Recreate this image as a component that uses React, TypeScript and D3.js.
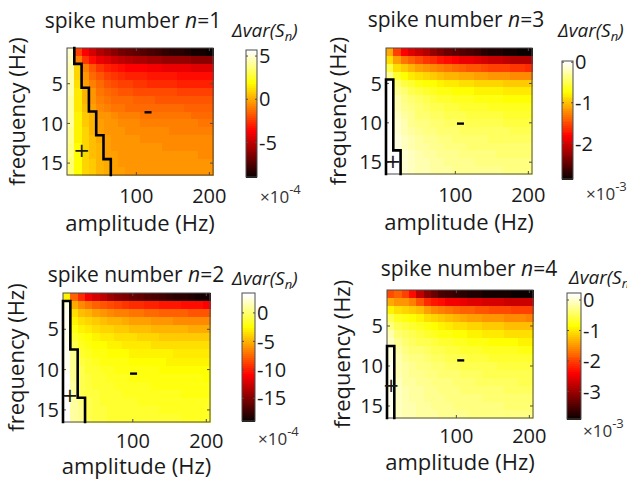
import React from 'react';
import * as d3 from 'd3';

// ---------- data ----------
const AMPLITUDES = [10, 20, 30, 40, 50, 60, 70, 80, 90, 100, 110, 120, 130, 140, 150, 160, 170, 180, 190, 200];
const FREQUENCIES = [1, 2, 3, 4, 5, 6, 7, 8, 9, 10, 11, 12, 13, 14, 15, 16];
const X_TICKS = [100, 200];
const Y_TICKS = [5, 10, 15];

// spike number n=1, values x 1e-4 (rows = frequency 1..16, cols = amplitude 10..200)
const DVAR_N1 = [
  [4.8, -2.2, -3.5, -4.5, -5.2, -5.7, -6.1, -6.5, -6.8, -7.0, -7.3, -7.5, -7.7, -7.9, -8.1, -8.3, -8.4, -8.6, -8.7, -8.8],
  [4.6, -0.9, -2.5, -3.4, -4.0, -4.4, -4.7, -5.0, -5.2, -5.4, -5.5, -5.6, -5.7, -5.8, -5.9, -6.0, -6.0, -6.1, -6.2, -6.2],
  [4.5, 0.9, -0.8, -1.8, -2.4, -2.8, -3.1, -3.3, -3.5, -3.6, -3.7, -3.8, -3.9, -4.0, -4.0, -4.1, -4.1, -4.2, -4.2, -4.3],
  [4.5, 1.1, -0.4, -1.2, -1.8, -2.2, -2.4, -2.6, -2.8, -2.9, -3.0, -3.1, -3.1, -3.2, -3.2, -3.3, -3.3, -3.4, -3.4, -3.4],
  [4.4, 1.2, -0.2, -0.9, -1.4, -1.7, -2.0, -2.2, -2.3, -2.4, -2.5, -2.6, -2.6, -2.7, -2.7, -2.8, -2.8, -2.8, -2.9, -2.9],
  [4.4, 1.4, 0.3, -0.5, -1.0, -1.3, -1.5, -1.7, -1.8, -1.9, -2.0, -2.0, -2.1, -2.1, -2.1, -2.2, -2.2, -2.2, -2.2, -2.2],
  [4.3, 1.4, 0.4, -0.4, -0.8, -1.0, -1.2, -1.3, -1.4, -1.5, -1.6, -1.6, -1.7, -1.7, -1.7, -1.8, -1.8, -1.8, -1.8, -1.8],
  [4.3, 1.5, 0.5, -0.2, -0.6, -0.8, -1.0, -1.1, -1.2, -1.2, -1.3, -1.3, -1.4, -1.4, -1.4, -1.4, -1.5, -1.5, -1.5, -1.5],
  [4.2, 1.6, 0.7, 0.2, -0.3, -0.5, -0.7, -0.8, -0.9, -0.9, -1.0, -1.0, -1.0, -1.1, -1.1, -1.1, -1.1, -1.2, -1.2, -1.2],
  [4.1, 1.6, 0.8, 0.3, -0.2, -0.4, -0.5, -0.6, -0.7, -0.7, -0.8, -0.8, -0.8, -0.9, -0.9, -0.9, -0.9, -0.9, -1.0, -1.0],
  [4.0, 1.7, 0.9, 0.3, -0.1, -0.3, -0.4, -0.5, -0.6, -0.6, -0.7, -0.7, -0.7, -0.7, -0.8, -0.8, -0.8, -0.8, -0.8, -0.8],
  [3.9, 1.7, 0.9, 0.5, 0.1, -0.2, -0.3, -0.4, -0.5, -0.5, -0.6, -0.6, -0.6, -0.6, -0.7, -0.7, -0.7, -0.7, -0.7, -0.7],
  [3.8, 1.8, 1.0, 0.6, 0.2, -0.1, -0.3, -0.4, -0.4, -0.5, -0.5, -0.5, -0.5, -0.6, -0.6, -0.6, -0.6, -0.6, -0.6, -0.6],
  [3.7, 1.8, 1.0, 0.6, 0.2, -0.1, -0.2, -0.3, -0.4, -0.4, -0.4, -0.5, -0.5, -0.5, -0.5, -0.5, -0.5, -0.5, -0.6, -0.6],
  [3.6, 1.8, 1.1, 0.7, 0.4, 0.1, -0.2, -0.3, -0.3, -0.4, -0.4, -0.4, -0.4, -0.4, -0.5, -0.5, -0.5, -0.5, -0.5, -0.5],
  [3.5, 1.9, 1.1, 0.7, 0.4, 0.1, -0.1, -0.2, -0.3, -0.3, -0.3, -0.4, -0.4, -0.4, -0.4, -0.4, -0.4, -0.5, -0.5, -0.5],
];

// spike number n=2, values x 1e-4
const DVAR_N2 = [
  [-2.5, -7.5, -9.5, -11.0, -12.0, -13.0, -13.8, -14.5, -15.1, -15.6, -16.0, -16.4, -16.8, -17.1, -17.4, -17.7, -17.9, -18.1, -18.3, -18.5],
  [2.5, -5.0, -6.0, -6.8, -7.4, -7.9, -8.3, -8.6, -8.9, -9.2, -9.4, -9.6, -9.8, -10.0, -10.1, -10.2, -10.3, -10.4, -10.5, -10.6],
  [2.8, -3.5, -4.3, -4.9, -5.4, -5.8, -6.1, -6.4, -6.6, -6.8, -7.0, -7.1, -7.3, -7.4, -7.5, -7.6, -7.7, -7.8, -7.9, -8.0],
  [2.9, -2.5, -3.2, -3.7, -4.1, -4.4, -4.7, -4.9, -5.1, -5.3, -5.4, -5.6, -5.7, -5.8, -5.9, -6.0, -6.1, -6.1, -6.2, -6.3],
  [3.0, -1.8, -2.5, -2.9, -3.3, -3.6, -3.8, -4.0, -4.1, -4.3, -4.4, -4.5, -4.6, -4.7, -4.8, -4.8, -4.9, -5.0, -5.0, -5.1],
  [3.0, -1.2, -1.9, -2.3, -2.7, -2.9, -3.1, -3.3, -3.4, -3.5, -3.6, -3.7, -3.8, -3.9, -3.9, -4.0, -4.1, -4.1, -4.2, -4.2],
  [3.0, -0.7, -1.5, -1.9, -2.2, -2.4, -2.6, -2.7, -2.9, -3.0, -3.0, -3.1, -3.2, -3.3, -3.3, -3.4, -3.4, -3.5, -3.5, -3.5],
  [3.1, 0.8, -1.1, -1.5, -1.8, -2.0, -2.2, -2.3, -2.4, -2.5, -2.6, -2.7, -2.7, -2.8, -2.8, -2.9, -2.9, -3.0, -3.0, -3.0],
  [3.1, 0.9, -0.9, -1.3, -1.6, -1.8, -1.9, -2.0, -2.1, -2.2, -2.3, -2.3, -2.4, -2.4, -2.5, -2.5, -2.6, -2.6, -2.6, -2.7],
  [3.1, 1.0, -0.7, -1.1, -1.4, -1.6, -1.7, -1.8, -1.9, -2.0, -2.0, -2.1, -2.1, -2.2, -2.2, -2.3, -2.3, -2.3, -2.4, -2.4],
  [3.2, 1.0, -0.6, -1.0, -1.2, -1.4, -1.5, -1.6, -1.7, -1.8, -1.8, -1.9, -1.9, -2.0, -2.0, -2.0, -2.1, -2.1, -2.1, -2.2],
  [3.2, 1.1, -0.5, -0.9, -1.1, -1.3, -1.4, -1.5, -1.6, -1.6, -1.7, -1.7, -1.8, -1.8, -1.8, -1.9, -1.9, -1.9, -2.0, -2.0],
  [3.2, 1.1, -0.4, -0.8, -1.0, -1.2, -1.3, -1.4, -1.5, -1.5, -1.6, -1.6, -1.6, -1.7, -1.7, -1.7, -1.8, -1.8, -1.8, -1.8],
  [3.2, 1.2, 0.6, -0.7, -0.9, -1.1, -1.2, -1.3, -1.4, -1.4, -1.5, -1.5, -1.5, -1.6, -1.6, -1.6, -1.6, -1.7, -1.7, -1.7],
  [3.2, 1.2, 0.7, -0.6, -0.9, -1.0, -1.1, -1.2, -1.3, -1.3, -1.4, -1.4, -1.4, -1.5, -1.5, -1.5, -1.5, -1.6, -1.6, -1.6],
  [3.2, 1.2, 0.7, -0.6, -0.8, -1.0, -1.1, -1.2, -1.2, -1.3, -1.3, -1.3, -1.4, -1.4, -1.4, -1.4, -1.5, -1.5, -1.5, -1.5],
];

// spike number n=3, values x 1e-3
const DVAR_N3 = [
  [-1.1, -1.55, -1.8, -1.95, -2.05, -2.15, -2.25, -2.35, -2.45, -2.5, -2.55, -2.6, -2.65, -2.7, -2.75, -2.78, -2.8, -2.82, -2.84, -2.86],
  [-0.85, -1.15, -1.3, -1.4, -1.5, -1.58, -1.65, -1.72, -1.78, -1.83, -1.88, -1.92, -1.96, -2.0, -2.03, -2.06, -2.09, -2.11, -2.13, -2.15],
  [-0.55, -0.85, -0.95, -1.05, -1.12, -1.18, -1.23, -1.28, -1.32, -1.36, -1.4, -1.43, -1.46, -1.49, -1.52, -1.54, -1.56, -1.58, -1.6, -1.62],
  [-0.3, -0.6, -0.72, -0.8, -0.86, -0.91, -0.95, -0.99, -1.02, -1.05, -1.08, -1.1, -1.12, -1.14, -1.16, -1.18, -1.19, -1.21, -1.22, -1.23],
  [0.01, -0.4, -0.52, -0.6, -0.66, -0.7, -0.74, -0.77, -0.8, -0.82, -0.84, -0.86, -0.88, -0.9, -0.91, -0.92, -0.93, -0.94, -0.95, -0.96],
  [0.01, -0.3, -0.42, -0.5, -0.55, -0.6, -0.63, -0.66, -0.68, -0.7, -0.72, -0.74, -0.75, -0.76, -0.77, -0.78, -0.79, -0.8, -0.81, -0.82],
  [0.01, -0.24, -0.35, -0.42, -0.47, -0.51, -0.54, -0.57, -0.59, -0.61, -0.63, -0.64, -0.66, -0.67, -0.68, -0.69, -0.7, -0.7, -0.71, -0.72],
  [0.02, -0.2, -0.3, -0.37, -0.42, -0.46, -0.49, -0.51, -0.53, -0.55, -0.57, -0.58, -0.59, -0.6, -0.61, -0.62, -0.63, -0.63, -0.64, -0.65],
  [0.02, -0.17, -0.26, -0.33, -0.38, -0.41, -0.44, -0.46, -0.48, -0.5, -0.51, -0.52, -0.53, -0.54, -0.55, -0.56, -0.57, -0.57, -0.58, -0.58],
  [0.02, -0.14, -0.23, -0.29, -0.34, -0.37, -0.4, -0.42, -0.44, -0.45, -0.47, -0.48, -0.49, -0.5, -0.5, -0.51, -0.52, -0.52, -0.53, -0.53],
  [0.02, -0.12, -0.2, -0.26, -0.3, -0.34, -0.36, -0.38, -0.4, -0.41, -0.43, -0.44, -0.45, -0.45, -0.46, -0.47, -0.47, -0.48, -0.48, -0.49],
  [0.02, -0.1, -0.18, -0.24, -0.28, -0.31, -0.33, -0.35, -0.37, -0.38, -0.39, -0.4, -0.41, -0.42, -0.43, -0.43, -0.44, -0.44, -0.45, -0.45],
  [0.02, -0.08, -0.16, -0.21, -0.25, -0.28, -0.31, -0.33, -0.34, -0.36, -0.37, -0.38, -0.38, -0.39, -0.4, -0.4, -0.41, -0.41, -0.42, -0.42],
  [0.02, 0.005, -0.14, -0.19, -0.23, -0.26, -0.28, -0.3, -0.32, -0.33, -0.34, -0.35, -0.36, -0.37, -0.37, -0.38, -0.38, -0.39, -0.39, -0.39],
  [0.02, 0.005, -0.12, -0.17, -0.21, -0.24, -0.26, -0.28, -0.3, -0.31, -0.32, -0.33, -0.34, -0.34, -0.35, -0.35, -0.36, -0.36, -0.37, -0.37],
  [0.02, 0.005, -0.11, -0.16, -0.2, -0.22, -0.25, -0.26, -0.28, -0.29, -0.3, -0.31, -0.32, -0.32, -0.33, -0.33, -0.34, -0.34, -0.34, -0.35],
];

// spike number n=4, values x 1e-3
const DVAR_N4 = [
  [-1.9, -1.8, -2.0, -2.3, -2.8, -3.1, -3.3, -3.45, -3.55, -3.62, -3.68, -3.72, -3.75, -3.78, -3.8, -3.82, -3.83, -3.84, -3.85, -3.86],
  [-1.35, -1.45, -1.5, -1.6, -1.85, -2.1, -2.25, -2.35, -2.42, -2.48, -2.52, -2.56, -2.59, -2.62, -2.64, -2.66, -2.68, -2.7, -2.71, -2.72],
  [-0.9, -1.05, -1.1, -1.15, -1.25, -1.4, -1.52, -1.6, -1.67, -1.73, -1.78, -1.82, -1.86, -1.89, -1.92, -1.94, -1.96, -1.98, -2.0, -2.01],
  [-0.5, -0.72, -0.8, -0.86, -0.92, -1.0, -1.1, -1.18, -1.24, -1.3, -1.35, -1.39, -1.43, -1.46, -1.49, -1.51, -1.53, -1.55, -1.57, -1.58],
  [-0.3, -0.5, -0.6, -0.66, -0.72, -0.78, -0.85, -0.91, -0.96, -1.0, -1.04, -1.08, -1.11, -1.14, -1.16, -1.18, -1.2, -1.22, -1.23, -1.24],
  [-0.15, -0.36, -0.46, -0.52, -0.58, -0.63, -0.69, -0.74, -0.78, -0.82, -0.86, -0.89, -0.92, -0.94, -0.96, -0.98, -1.0, -1.01, -1.02, -1.03],
  [-0.05, -0.27, -0.37, -0.43, -0.48, -0.53, -0.58, -0.62, -0.66, -0.7, -0.73, -0.76, -0.78, -0.8, -0.82, -0.84, -0.85, -0.86, -0.87, -0.88],
  [0.1, -0.2, -0.3, -0.36, -0.41, -0.45, -0.49, -0.53, -0.56, -0.59, -0.62, -0.64, -0.66, -0.68, -0.7, -0.71, -0.72, -0.73, -0.74, -0.75],
  [0.1, -0.15, -0.25, -0.31, -0.35, -0.39, -0.43, -0.46, -0.49, -0.52, -0.54, -0.56, -0.58, -0.6, -0.61, -0.62, -0.63, -0.64, -0.65, -0.66],
  [0.12, -0.12, -0.21, -0.27, -0.31, -0.35, -0.38, -0.41, -0.44, -0.46, -0.48, -0.5, -0.52, -0.53, -0.54, -0.55, -0.56, -0.57, -0.58, -0.59],
  [0.12, -0.1, -0.18, -0.23, -0.27, -0.31, -0.34, -0.37, -0.39, -0.41, -0.43, -0.45, -0.46, -0.48, -0.49, -0.5, -0.51, -0.52, -0.53, -0.53],
  [0.13, -0.08, -0.16, -0.21, -0.25, -0.28, -0.31, -0.33, -0.35, -0.37, -0.39, -0.41, -0.42, -0.43, -0.44, -0.45, -0.46, -0.47, -0.48, -0.48],
  [0.13, -0.07, -0.14, -0.19, -0.22, -0.25, -0.28, -0.3, -0.32, -0.34, -0.36, -0.37, -0.38, -0.39, -0.4, -0.41, -0.42, -0.43, -0.43, -0.44],
  [0.14, -0.06, -0.12, -0.17, -0.2, -0.23, -0.26, -0.28, -0.3, -0.31, -0.33, -0.34, -0.35, -0.36, -0.37, -0.38, -0.39, -0.39, -0.4, -0.4],
  [0.14, -0.05, -0.11, -0.15, -0.19, -0.21, -0.24, -0.26, -0.27, -0.29, -0.3, -0.31, -0.32, -0.33, -0.34, -0.35, -0.36, -0.36, -0.37, -0.37],
  [0.14, -0.05, -0.1, -0.14, -0.17, -0.2, -0.22, -0.24, -0.25, -0.27, -0.28, -0.29, -0.3, -0.31, -0.32, -0.32, -0.33, -0.34, -0.34, -0.35],
];

const CB_RANGE_N1 = [-9, 5.7];
const CB_RANGE_N2 = [-19, 3.5];
const CB_RANGE_N3 = [-2.88, 0.03];
const CB_RANGE_N4 = [-3.9, 0.23];
const CB_TICKS_N1 = [5, 0, -5];
const CB_TICKS_N2 = [0, -5, -10, -15];
const CB_TICKS_N3 = [0, -1, -2];
const CB_TICKS_N4 = [0, -1, -2, -3];

// sign annotations (amplitude, frequency)
const PLUS_N1 = [25, 13.3];
const MINUS_N1 = [116, 8.6];
const PLUS_N2 = [14.5, 13.2];
const MINUS_N2 = [101, 10.5];
const PLUS_N3 = [14.5, 14.8];
const MINUS_N3 = [107, 10.1];
const PLUS_N4 = [10.5, 12.4];
const MINUS_N4 = [106, 9.3];

// ---------- helpers ----------
const FONT = "'Open Sans', 'Segoe UI', 'DejaVu Sans', sans-serif";
const TXT = '#1a1a1a';
const AX = '#4d4d4d';
const M = 64;

function hot(i: number) {
  const n = Math.floor((3 / 8) * M);
  const k = i + 1;
  const r = k <= n ? k / n : 1;
  const g = k <= n ? 0 : k <= 2 * n ? (k - n) / n : 1;
  const b = k <= 2 * n ? 0 : (k - 2 * n) / (M - 2 * n);
  return d3.rgb(r * 255, g * 255, b * 255).formatHex();
}

function colorIndex(v: number, lo: number, hi: number) {
  const idx = Math.floor(((v - lo) / (hi - lo)) * M);
  return Math.max(0, Math.min(M - 1, idx));
}

type PanelCfg = {
  n: number;
  data: number[][];
  range: number[];
  cbTicks: number[];
  exp: number;
  plus: number[];
  minus: number[];
  closeLeft: boolean;
  plot: { x0: number; x1: number; y0: number; y1: number };
  cb: { x0: number; x1: number; y0: number; y1: number };
  title: { x: number; y: number };
  ylabX: number;
  xtickY: number;
  xlabY: number;
  cbLab: { x: number; y: number };
  expLab: { x: number; y: number };
};

const PANELS: PanelCfg[] = [
  {
    n: 1, data: DVAR_N1, range: CB_RANGE_N1, cbTicks: CB_TICKS_N1, exp: -4, plus: PLUS_N1, minus: MINUS_N1, closeLeft: false,
    plot: { x0: 67, x1: 213, y0: 48, y1: 175 }, cb: { x0: 246, x1: 257, y0: 50, y1: 177 },
    title: { x: 133, y: 28 }, ylabX: 25, xtickY: 203, xlabY: 231, cbLab: { x: 232, y: 37 }, expLab: { x: 260, y: 203 },
  },
  {
    n: 3, data: DVAR_N3, range: CB_RANGE_N3, cbTicks: CB_TICKS_N3, exp: -3, plus: PLUS_N3, minus: MINUS_N3, closeLeft: true,
    plot: { x0: 386, x1: 532, y0: 48, y1: 174 }, cb: { x0: 562, x1: 573, y0: 61, y1: 179 },
    title: { x: 456, y: 27 }, ylabX: 346, xtickY: 202, xlabY: 230, cbLab: { x: 558, y: 37 }, expLab: { x: 586, y: 200 },
  },
  {
    n: 2, data: DVAR_N2, range: CB_RANGE_N2, cbTicks: CB_TICKS_N2, exp: -4, plus: PLUS_N2, minus: MINUS_N2, closeLeft: true,
    plot: { x0: 63, x1: 210, y0: 293, y1: 422 }, cb: { x0: 242, x1: 255, y0: 293, y1: 421 },
    title: { x: 136, y: 282 }, ylabX: 24, xtickY: 448, xlabY: 474, cbLab: { x: 232, y: 285 }, expLab: { x: 258, y: 445 },
  },
  {
    n: 4, data: DVAR_N4, range: CB_RANGE_N4, cbTicks: CB_TICKS_N4, exp: -3, plus: PLUS_N4, minus: MINUS_N4, closeLeft: true,
    plot: { x0: 387, x1: 533, y0: 290, y1: 418 }, cb: { x0: 567, x1: 581, y0: 293, y1: 419 },
    title: { x: 469, y: 276 }, ylabX: 350, xtickY: 443, xlabY: 470, cbLab: { x: 569, y: 284 }, expLab: { x: 583, y: 437 },
  },
];

function Panel({ p }: { p: PanelCfg }) {
  const { plot, cb } = p;
  const step = AMPLITUDES[1] - AMPLITUDES[0];
  const x = d3.scaleLinear().domain([AMPLITUDES[0] - step / 2, AMPLITUDES[AMPLITUDES.length - 1] + step / 2]).range([plot.x0, plot.x1]);
  const y = d3.scaleLinear().domain([FREQUENCIES[0] - 0.5, FREQUENCIES[FREQUENCIES.length - 1] + 0.5]).range([plot.y0, plot.y1]);
  const [lo, hi] = p.range;
  const cy = d3.scaleLinear().domain([lo, hi]).range([cb.y1, cb.y0]);

  // zero contour (boundary of the positive region)
  const pos = (r: number, c: number) => p.data[r][c] > 0;
  const segs: string[] = [];
  FREQUENCIES.forEach((f, r) => {
    AMPLITUDES.forEach((a, c) => {
      const xr = x(a + step / 2);
      const yt = y(f - 0.5);
      const yb = y(f + 0.5);
      const xl = x(a - step / 2);
      if (c < AMPLITUDES.length - 1 && pos(r, c) !== pos(r, c + 1)) segs.push(`M${xr},${yt}L${xr},${yb}`);
      if (r < FREQUENCIES.length - 1 && pos(r, c) !== pos(r + 1, c)) segs.push(`M${xl},${yb}L${xr},${yb}`);
      if (p.closeLeft && c === 0 && pos(r, c)) segs.push(`M${xl},${yt}L${xl},${yb}`);
    });
  });

  const tl = 3;
  return (
    <g fontFamily={FONT} fill={TXT}>
      <g shapeRendering="crispEdges">
        {p.data.map((row, r) =>
          row.map((v, c) => (
            <rect
              key={`${r}-${c}`}
              x={x(AMPLITUDES[c] - step / 2)}
              y={y(FREQUENCIES[r] - 0.5)}
              width={x(AMPLITUDES[c] + step / 2) - x(AMPLITUDES[c] - step / 2) + 0.5}
              height={y(FREQUENCIES[r] + 0.5) - y(FREQUENCIES[r] - 0.5) + 0.5}
              fill={hot(colorIndex(v, lo, hi))}
            />
          ))
        )}
      </g>
      <rect x={plot.x0} y={plot.y0} width={plot.x1 - plot.x0} height={plot.y1 - plot.y0} fill="none" stroke={AX} strokeWidth={1} />
      {X_TICKS.map((t) => (
        <g key={`xt${t}`}>
          <line x1={x(t)} x2={x(t)} y1={plot.y1} y2={plot.y1 - tl} stroke={AX} />
          <line x1={x(t)} x2={x(t)} y1={plot.y0} y2={plot.y0 + tl} stroke={AX} />
          <text x={x(t)} y={p.xtickY} textAnchor="middle" fontSize={20}>{t}</text>
        </g>
      ))}
      {Y_TICKS.map((t) => (
        <g key={`yt${t}`}>
          <line x1={plot.x0} x2={plot.x0 + tl} y1={y(t)} y2={y(t)} stroke={AX} />
          <line x1={plot.x1} x2={plot.x1 - tl} y1={y(t)} y2={y(t)} stroke={AX} />
          <text x={plot.x0 - 4} y={y(t)} dy="0.36em" textAnchor="end" fontSize={20}>{t}</text>
        </g>
      ))}
      <path d={segs.join('')} stroke="#000" strokeWidth={2.6} strokeLinecap="square" fill="none" />
      <text x={x(p.plus[0])} y={y(p.plus[1])} dy="0.35em" textAnchor="middle" fontSize={20} fontFamily="'DejaVu Sans', sans-serif">+</text>
      <line x1={x(p.minus[0]) - 3.5} x2={x(p.minus[0]) + 3.5} y1={y(p.minus[1])} y2={y(p.minus[1])} stroke="#000" strokeWidth={2.4} />
      <text x={p.title.x} y={p.title.y} textAnchor="middle" fontSize={21}>
        spike number <tspan fontStyle="italic">n</tspan>={p.n}
      </text>
      <text x={(plot.x0 + plot.x1) / 2} y={p.xlabY} textAnchor="middle" fontSize={22}>amplitude (Hz)</text>
      <text transform={`translate(${p.ylabX},${(plot.y0 + plot.y1) / 2}) rotate(-90)`} textAnchor="middle" fontSize={22}>frequency (Hz)</text>
      <g shapeRendering="crispEdges">
        {d3.range(M).map((i) => {
          const v0 = lo + ((hi - lo) * i) / M;
          const v1 = lo + ((hi - lo) * (i + 1)) / M;
          return <rect key={`cb${i}`} x={cb.x0} y={cy(v1)} width={cb.x1 - cb.x0} height={cy(v0) - cy(v1) + 0.5} fill={hot(i)} />;
        })}
      </g>
      <rect x={cb.x0} y={cb.y0} width={cb.x1 - cb.x0} height={cb.y1 - cb.y0} fill="none" stroke={AX} strokeWidth={1} />
      {p.cbTicks.map((t) => (
        <g key={`cbt${t}`}>
          <line x1={cb.x1} x2={cb.x1 - 2} y1={cy(t)} y2={cy(t)} stroke={AX} />
          <line x1={cb.x0} x2={cb.x0 + 2} y1={cy(t)} y2={cy(t)} stroke={AX} />
          <text x={cb.x1 + 2} y={cy(t)} dy="0.36em" fontSize={20}>{t}</text>
        </g>
      ))}
      <text x={p.cbLab.x} y={p.cbLab.y} fontSize={19} fontStyle="italic">
        Δvar(S<tspan dy={4} fontSize={13}>n</tspan><tspan dy={-4}>)</tspan>
      </text>
      <text x={p.expLab.x} y={p.expLab.y} fontSize={17} fill="#333">
        ×10<tspan dy={-9} fontSize={13}>{p.exp}</tspan>
      </text>
    </g>
  );
}

export default function App() {
  return (
    <svg width={627} height={480} style={{ position: 'absolute', left: 0, top: 0, background: '#fff' }}>
      <rect width={627} height={480} fill="#fff" />
      {PANELS.map((p) => (
        <Panel key={p.n} p={p} />
      ))}
    </svg>
  );
}
